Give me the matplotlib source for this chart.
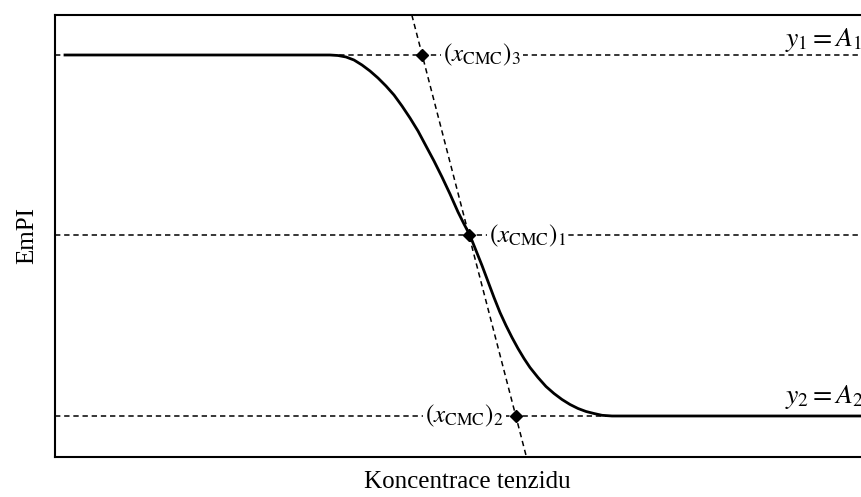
import matplotlib.pyplot as plt
import numpy as np

plt.rcParams['font.family'] = ['Liberation Serif', 'DejaVu Serif']
plt.rcParams['mathtext.fontset'] = 'stix'

# curve (concentration in arbitrary units, EmPI normalised A2=0, A1=1)
conc = [1.25, 34.375, 35.375, 36.375, 37.375, 38.375, 39.375, 40.375, 41.375, 42.375,
        43.375, 44.375, 45.375, 46.375, 47.375, 48.375, 49.375, 50.375, 51.125, 51.875,
        52.625, 53.375, 54.125, 54.875, 55.625, 56.375, 57.125, 57.875, 58.625, 59.375,
        60.375, 61.375, 62.375, 63.375, 64.375, 65.375, 66.375, 67.375, 68.375, 69.625,
        103.0]
empi = [1.0, 1.0, 0.9986, 0.9945, 0.9861, 0.9723, 0.9557, 0.9363, 0.9141, 0.8892,
        0.8587, 0.8255, 0.7895, 0.7479, 0.7064, 0.6620, 0.6150, 0.5651, 0.5319, 0.5,
        0.4584, 0.4169, 0.3726, 0.3283, 0.2867, 0.2507, 0.2175, 0.1870, 0.1593, 0.1343,
        0.1066, 0.0817, 0.0623, 0.0457, 0.0319, 0.0208, 0.0125, 0.0069, 0.0019, 0.0,
        0.0]

A1 = 1.0
A2 = 0.0
x_cmc1 = 51.75
x_cmc2 = 57.6
x_cmc3 = 45.9

fig = plt.figure(figsize=(8.62, 4.97), dpi=100)
ax = fig.add_axes([55/862, 40/497, 824/862, 442/497])
ax.set_xlim(0, 103)
ax.set_ylim(-0.1136, 1.1108)

# dashed reference lines
dash = dict(color='black', lw=1.1, ls=(0, (3.5, 2.5)), zorder=1)
ax.axhline(A1, **dash)
ax.axhline((A1 + A2) / 2, **dash)
ax.axhline(A2, **dash)
ax.axline((x_cmc3, A1), (x_cmc2, A2), **dash)

# the curve
ax.plot(conc, empi, color='black', lw=2.0, zorder=3, solid_joinstyle='round')

# points
ax.plot([x_cmc3, x_cmc1, x_cmc2], [A1, (A1 + A2) / 2, A2], 'D', color='black',
        ms=6, zorder=5)

box = dict(fc='white', ec='none', pad=1.5)
ax.text(x_cmc3 + 2.6, A1, r'$(x_{\mathrm{CMC}})_3$', fontsize=18, va='center',
        ha='left', bbox=box, zorder=4)
ax.text(x_cmc1 + 2.5, (A1 + A2) / 2, r'$(x_{\mathrm{CMC}})_1$', fontsize=18,
        va='center', ha='left', bbox=box, zorder=4)
ax.text(x_cmc2 - 1.5, A2, r'$(x_{\mathrm{CMC}})_2$', fontsize=18, va='center',
        ha='right', bbox=box, zorder=4)
ax.text(91.25, 1.025, r'$y_1 = A_1$', fontsize=20, va='baseline', ha='left')
ax.text(91.25, 0.036, r'$y_2 = A_2$', fontsize=20, va='baseline', ha='left')

for s in ax.spines.values():
    s.set_linewidth(1.5)
ax.set_xticks([])
ax.set_yticks([])
ax.set_xlabel('Koncentrace tenzidu', fontsize=18, labelpad=10)
ax.set_ylabel('EmPI', fontsize=18, labelpad=12)

fig.savefig('out.png', dpi=100)
